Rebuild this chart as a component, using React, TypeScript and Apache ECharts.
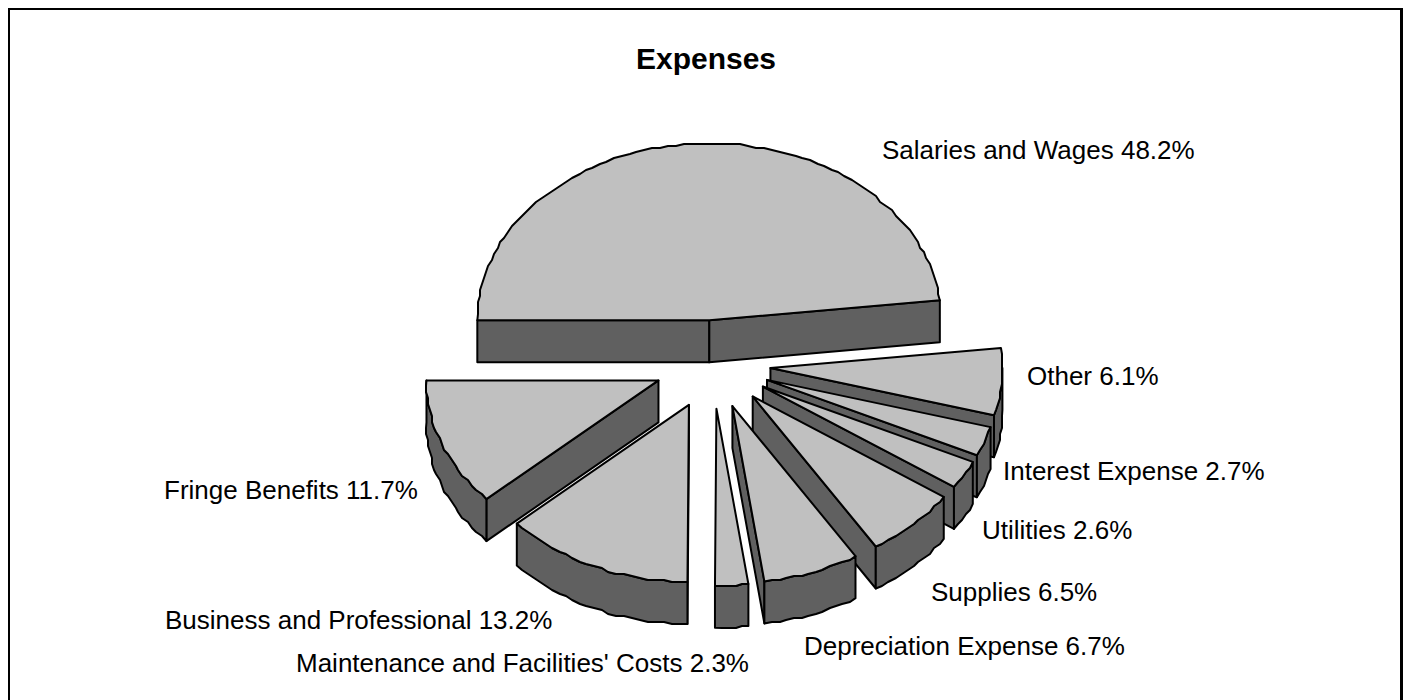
import React, { useEffect, useRef } from "react";
import * as echarts from "echarts";

const categories = [
  "Salaries and Wages",
  "Other",
  "Interest Expense",
  "Utilities",
  "Supplies",
  "Depreciation Expense",
  "Maintenance and Facilities' Costs",
  "Business and Professional",
  "Fringe Benefits",
];
const values = [48.2, 6.1, 2.7, 2.6, 6.5, 6.7, 2.3, 13.2, 11.7];
const labelLeft = [882, 1027, 1003, 982, 931, 804, 296, 165, 164];
const labelMiddle = [150, 376, 471, 530, 592, 646, 663, 620, 490];

const START_ANGLE = -90;
const CX = 712.6;
const CY = 364.5;
const RX = 232;
const RY = 177;
const EXPLODE = 58;
const DEPTH = 42;
const TOP = "#c0c0c0";
const SIDE = "#606060";
const STROKE = { stroke: "#000", lineWidth: 2, lineJoin: "round" as const };
const FONT = "Liberation Sans, Arial, sans-serif";

const rad = (d: number) => (d * Math.PI) / 180;
const total = values.reduce((a, b) => a + b, 0);
const starts: number[] = [];
values.reduce((acc, v, i) => {
  starts[i] = acc;
  return acc + (v / total) * 360;
}, START_ANGLE);

function arc(cx: number, cy: number, a: number, b: number): number[][] {
  const pts: number[][] = [];
  const n = Math.max(2, Math.ceil((b - a) / 2));
  for (let i = 0; i <= n; i++) {
    const t = rad(a + ((b - a) * i) / n);
    const x = cx + RX * Math.sin(t);
    const y = cy - RY * Math.cos(t);
    if (i === 0 || i === n) pts.push([x, y]);
    else pts.push([Math.round(x / 2) * 2, Math.round(y / 2) * 2]);
  }
  return pts;
}

const renderItem = (_params: any, api: any) => {
  const i = _params.dataIndex;
  const sweep = (api.value(0) / total) * 360;
  const a = starts[i];
  const b = a + sweep;
  const mid = rad(a + sweep / 2);
  const cx = CX + EXPLODE * Math.sin(mid);
  const cy = CY - (EXPLODE * RY * Math.cos(mid)) / RX;
  const children: any[] = [];
  const poly = (points: number[][], fill: string) =>
    children.push({ type: "polygon", shape: { points }, style: { fill, ...STROKE } });
  const pt = (ang: number, dy = 0) => [
    cx + RX * Math.sin(rad(ang)),
    cy - RY * Math.cos(rad(ang)) + dy,
  ];
  if (Math.sin(rad(a)) < 0) {
    poly([[cx, cy], pt(a), pt(a, DEPTH), [cx, cy + DEPTH]], SIDE);
  }
  if (Math.sin(rad(b)) > 0) {
    poly([[cx, cy], pt(b), pt(b, DEPTH), [cx, cy + DEPTH]], SIDE);
  }
  const lo = Math.max(a, 90);
  const hi = Math.min(b, 270);
  if (hi > lo) {
    const top = arc(cx, cy, lo, hi);
    const bottom = top.map(([x, y]) => [x, y + DEPTH]).reverse();
    poly([...top, ...bottom], SIDE);
  }
  poly([[cx, cy], ...arc(cx, cy, a, b)], TOP);
  children.push({
    type: "text",
    x: labelLeft[i],
    y: labelMiddle[i],
    style: {
      text: `${categories[i]} ${values[i]}%`,
      fill: "#000",
      fontSize: 26,
      fontFamily: FONT,
      textAlign: "left",
      textVerticalAlign: "middle",
    },
  });
  return { type: "group", children };
};

export default function App() {
  const ref = useRef<HTMLDivElement>(null);
  useEffect(() => {
    if (!ref.current) return;
    const chart = echarts.init(ref.current, undefined, { renderer: "svg" });
    chart.setOption({
      animation: false,
      backgroundColor: "#fff",
      title: {
        text: "Expenses",
        left: 701,
        top: 38,
        textAlign: "center",
        textStyle: { fontFamily: FONT, fontSize: 30, fontWeight: "bold", color: "#000" },
      },
      graphic: [
        { type: "rect", shape: { x: 8, y: 8, width: 2, height: 692 }, style: { fill: "#000" } },
        { type: "rect", shape: { x: 8, y: 8, width: 1395, height: 2 }, style: { fill: "#000" } },
        { type: "rect", shape: { x: 1400, y: 8, width: 3, height: 692 }, style: { fill: "#000" } },
      ],
      series: [
        {
          type: "custom",
          coordinateSystem: "none",
          clip: false,
          data: values.map((v, i) => ({ name: categories[i], value: [v] })),
          renderItem,
        },
      ],
    });
    return () => chart.dispose();
  }, []);
  return (
    <div
      ref={ref}
      style={{ position: "absolute", left: 0, top: 0, width: 1403, height: 700 }}
    />
  );
}
